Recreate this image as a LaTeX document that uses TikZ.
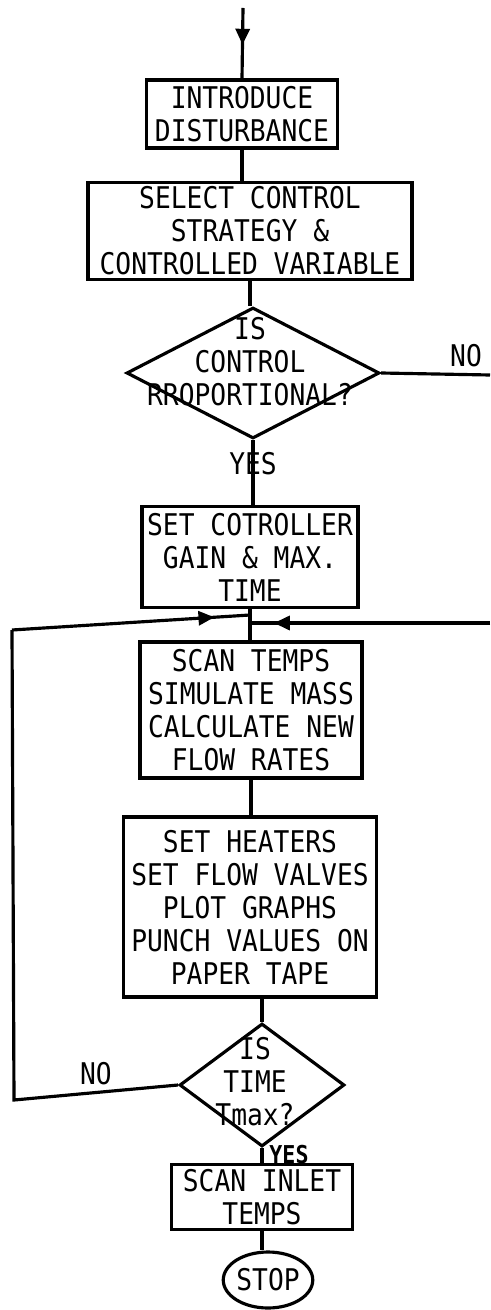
\documentclass[tikz,border=0pt]{standalone}
\usepackage{fontspec}
\newfontfamily\lettering[FakeStretch=0.88]{DejaVu Sans Mono}
\usetikzlibrary{shapes.geometric,arrows.meta,decorations.markings}

\tikzset{
  every node/.style={font={\lettering\fontsize{17}{18.8}\selectfont}},
  box/.style={draw, rectangle, inner sep=0pt, align=center},
  decision/.style={draw, diamond, inner sep=0pt},
  terminal/.style={draw, ellipse, inner sep=0pt},
  question/.style={align=center, inner sep=0pt},
  small yes/.style={font={\lettering\bfseries\fontsize{14}{16}\selectfont}},
  mid arrow/.style={postaction={decorate},
    decoration={markings, mark=at position #1 with {\arrow{Triangle[length=9pt,width=8pt]}}}},
}

\begin{document}
\begin{tikzpicture}[x=0.02cm, y=-0.02cm, line width=1.8pt]
        \useasboundingbox (0,0) rectangle (490,1310);

        % Kaesten
        \coordinate (start) at (243,8);
        \node[box, minimum width=3.82cm, minimum height=1.36cm] (box1) at (242,114) {INTRODUCE\\DISTURBANCE};
        \node[box, minimum width=6.48cm, minimum height=1.94cm] (box2) at (250,231) {SELECT CONTROL\\STRATEGY \&\\CONTROLLED VARIABLE};
        \node[decision, minimum width=5.06cm, minimum height=2.62cm] (d1) at (253,373) {};
        \node[question] (q1) at (250,362) {IS\\CONTROL\\RROPORTIONAL?};
        \node[box, minimum width=4.32cm, minimum height=2.02cm] (box3) at (250,557) {SET COTROLLER\\GAIN \& MAX.\\TIME};
        \node[box, minimum width=4.44cm, minimum height=2.72cm] (box4) at (251,710) {SCAN TEMPS\\SIMULATE MASS\\CALCULATE NEW\\FLOW RATES};
        \node[box, minimum width=5.06cm, minimum height=3.6cm] (box5) at (250,907) {SET HEATERS\\SET FLOW VALVES\\PLOT GRAPHS\\PUNCH VALUES ON\\PAPER TAPE};
        \node[decision, minimum width=3.3cm, minimum height=2.46cm] (d2) at (262,1085) {};
        \node[question] (q2) at (255,1082) {IS\\TIME\\Tmax?};
        \node[box, minimum width=3.62cm, minimum height=1.3cm] (box6) at (262,1197) {SCAN INLET\\TEMPS};
        \node[terminal, minimum width=1.76cm, minimum height=1.12cm] (stop) at (268,1280) {STOP};

        % Hilfspunkte der Schleife
        \coordinate (noEnd) at (490,375);
        \coordinate (lb) at (14,1100);
        \coordinate (lt) at (12,630);
        \coordinate (jl) at (250,615);
        \coordinate (rin) at (490,623);
        \coordinate (jr) at (250,623);

        % Linien
        \draw[mid arrow=0.52] (start) -- (box1.north);
        \draw (box1.south) -- (box1.south |- box2.north);
        \draw (box2.south) -- (box2.south |- d1.north);
        \draw (d1.east) -- node[above, pos=0.78] {NO} (noEnd);
        \draw (d1.south) -- node[pos=0.36] {YES} (d1.south |- box3.north);
        \draw (box3.south) -- (box3.south |- box4.north);
        \draw (box4.south) -- (box4.south |- box5.north);
        \draw (box5.south -| d2.north) -- (d2.north);
        \draw (d2.west) -- node[above, pos=0.5] {NO} (lb) -- (lt);
        \draw[mid arrow=0.85] (lt) -- (jl);
        \draw[mid arrow=0.9] (rin) -- (jr);
        \draw (d2.south) -- node[right, pos=0.45, small yes] {YES} (d2.south |- box6.north);
        \draw (box6.south) -- (box6.south |- stop.north);
    \end{tikzpicture}
\end{document}
